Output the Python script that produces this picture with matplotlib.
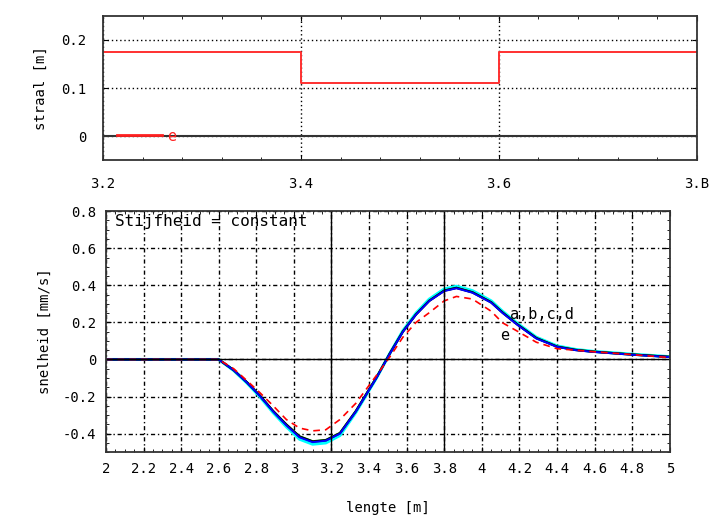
import numpy as np
import matplotlib
matplotlib.use("Agg")
from matplotlib import pyplot as plt
from matplotlib.ticker import MultipleLocator

# bovenste grafiek: straal langs de lengte
straal_x = [3.2, 3.4, 3.4, 3.6, 3.6, 3.8]
straal_y = [0.175, 0.175, 0.11, 0.11, 0.175, 0.175]

# onderste grafiek: snelheid langs de lengte
lengte = [2.0, 2.3, 2.6, 2.68, 2.75, 2.82, 2.89, 2.96, 3.03, 3.1, 3.17, 3.245, 3.33,
          3.44, 3.51, 3.58, 3.65, 3.72, 3.8, 3.865, 3.95, 4.05, 4.11, 4.19, 4.29, 4.4,
          4.5, 4.59, 4.79, 5.0]
snel_a = [0.0, 0.0, 0.0, -0.058, -0.123, -0.196, -0.279, -0.352, -0.416, -0.443, -0.436, -0.398, -0.279,
          -0.097, 0.031, 0.15, 0.243, 0.316, 0.371, 0.386, 0.362, 0.308, 0.253, 0.188, 0.115, 0.069,
          0.051, 0.042, 0.027, 0.014]
snel_b = [0.0, 0.0, 0.0, -0.058, -0.124, -0.198, -0.281, -0.355, -0.42, -0.446, -0.438, -0.4, -0.28,
          -0.098, 0.03, 0.149, 0.242, 0.315, 0.369, 0.384, 0.36, 0.306, 0.251, 0.186, 0.113, 0.068,
          0.05, 0.041, 0.026, 0.013]
snel_c = [0.0, 0.0, 0.0, -0.06, -0.127, -0.202, -0.287, -0.363, -0.43, -0.457, -0.45, -0.41, -0.285,
          -0.099, 0.032, 0.155, 0.25, 0.325, 0.38, 0.395, 0.371, 0.316, 0.26, 0.194, 0.12, 0.073,
          0.054, 0.044, 0.029, 0.015]
snel_d = [0.0, 0.0, 0.0, -0.057, -0.122, -0.195, -0.278, -0.35, -0.414, -0.441, -0.434, -0.396, -0.277,
          -0.095, 0.032, 0.151, 0.244, 0.317, 0.372, 0.387, 0.363, 0.309, 0.254, 0.189, 0.116, 0.07,
          0.052, 0.043, 0.028, 0.014]
snel_e = [0.0, 0.0, 0.0, -0.05, -0.114, -0.18, -0.25, -0.324, -0.37, -0.385, -0.379, -0.324, -0.236,
          -0.085, 0.013, 0.12, 0.2, 0.252, 0.316, 0.34, 0.326, 0.26, 0.198, 0.152, 0.093, 0.058,
          0.05, 0.042, 0.027, 0.01]

plt.rcParams['font.family'] = ['DejaVu Sans Mono']
plt.rcParams['font.size'] = 10

f = plt.figure(figsize=(7.11, 5.15), dpi=100)
ax1 = f.add_axes([0.145, 0.689, 0.835, 0.280])
ax2 = f.add_axes([0.149, 0.122, 0.793, 0.468])

# bovenste grafiek
ax1.plot(straal_x, straal_y, color="#ff3030", lw=1.4)
ax1.axhline(0, color="#333333", lw=1.5)
ax1.plot([3.214, 3.26], [0.002, 0.002], color="#ff2020", lw=2)
ax1.text(3.265, 0.0, "e", color="#ff2020", va="center", fontsize=11)
ax1.set_xlim(3.2, 3.8)
ax1.set_ylim(-0.05, 0.25)
ax1.set_xticks([3.2, 3.4, 3.6, 3.8])
ax1.set_xticklabels(["3.2", "3.4", "3.6", "3.B"])
ax1.set_yticks([0, 0.1, 0.2])
ax1.set_yticklabels(["0", "0.1", "0.2"])
ax1.xaxis.set_minor_locator(MultipleLocator(0.04))
ax1.tick_params(which="both", direction="in", top=True, right=True)
ax1.tick_params(axis="x", pad=12)
ax1.tick_params(axis="y", pad=12)
ax1.grid(True, color="black", linestyle=(0, (1, 2)), lw=1)
ax1.set_ylabel("straal [m]", labelpad=10)
for s in ax1.spines.values():
    s.set_linewidth(1.3)
    s.set_color("#333333")

# onderste grafiek
ax2.plot(lengte, snel_c, color="cyan", lw=2.2)
ax2.plot(lengte, snel_d, color="green", lw=1.5)
ax2.plot(lengte, snel_a, color="black", lw=1.6)
ax2.plot(lengte, snel_b, color="blue", lw=1.4)
ax2.plot(lengte, snel_e, color="red", lw=1.2, linestyle=(0, (4, 3)))
ax2.axhline(0, color="black", lw=1)
ax2.axvline(3.2, color="black", lw=1)
ax2.axvline(3.8, color="black", lw=1)
ax2.set_xlim(2, 5)
ax2.set_ylim(-0.5, 0.8)
ax2.xaxis.set_minor_locator(MultipleLocator(0.05))
ax2.yaxis.set_minor_locator(MultipleLocator(0.05))
xt = np.round(np.arange(2, 5.01, 0.2), 1)
ax2.set_xticks(xt)
ax2.set_xticklabels(["%g" % v for v in xt])
yt = np.round(np.arange(-0.4, 0.81, 0.2), 1)
ax2.set_yticks(yt)
ax2.set_yticklabels(["%g" % v for v in yt])
ax2.tick_params(which="both", direction="in", top=True, right=True)
ax2.tick_params(axis="both", pad=7)
ax2.grid(True, color="black", linestyle=(0, (3, 2, 1, 2)), lw=1)
ax2.text(2.05, 0.785, "Stijfheid = constant", va="top", fontsize=11.5)
ax2.text(4.15, 0.2, "a,b,c,d", va="bottom", fontsize=11)
ax2.text(4.1, 0.17, "e", va="top", fontsize=11)
ax2.set_ylabel("snelheid [mm/s]", labelpad=8)
ax2.set_xlabel("lengte [m]", labelpad=18)
for s in ax2.spines.values():
    s.set_linewidth(1.3)
    s.set_color("#333333")

f.savefig("out.png", dpi=100)
